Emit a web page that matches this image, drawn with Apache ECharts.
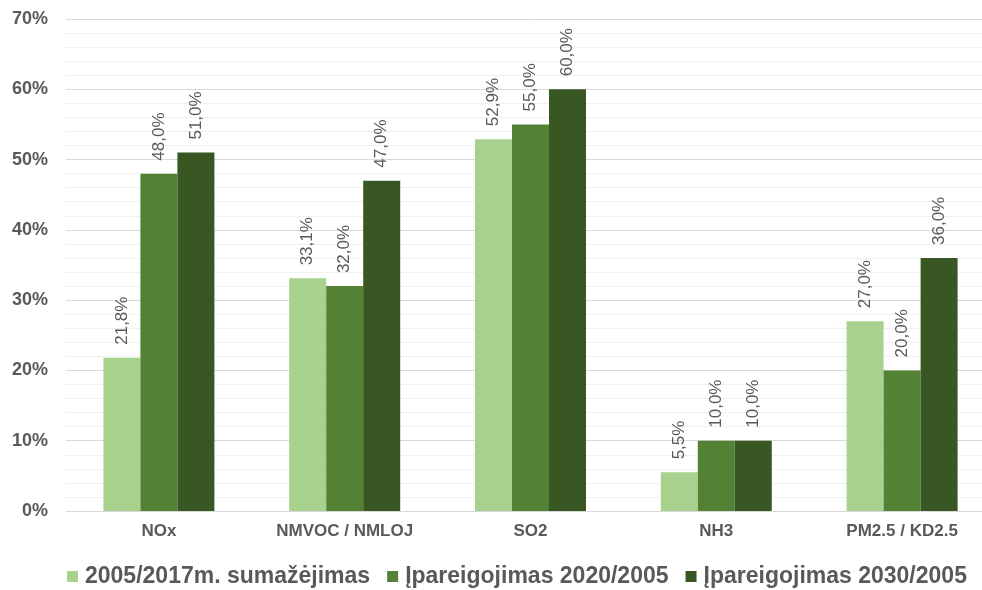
<!DOCTYPE html>
<html>
<head>
<meta charset="utf-8">
<script src="https://cdn.jsdelivr.net/npm/echarts@6/dist/echarts.min.js"></script>
<style>
  html, body { margin: 0; padding: 0; background: #fff; overflow: hidden; }
  #chart { width: 1000px; height: 590px; }
</style>
</head>
<body>
<div id="chart"></div>
<script>
// Pollutant categories
const categories = ['NOx', 'NMVOC / NMLOJ', 'SO2', 'NH3', 'PM2.5 / KD2.5'];
// Series names
const seriesNames = ['2005/2017m. sumažėjimas', 'Įpareigojimas 2020/2005', 'Įpareigojimas 2030/2005'];
// Values in percent
const reduction2017 = [21.8, 33.1, 52.9, 5.5, 27.0];
const target2020 = [48.0, 32.0, 55.0, 10.0, 20.0];
const target2030 = [51.0, 47.0, 60.0, 10.0, 36.0];
// Y axis ticks
const yTicks = [0, 10, 20, 30, 40, 50, 60, 70];

const colors = ['#a9d18e', '#548235', '#385723'];
const font = "'Liberation Sans', Arial, sans-serif";

function fmt(v) {
  return v.toFixed(1).replace('.', ',') + '%';
}

const seriesData = [reduction2017, target2020, target2030];

const chart = echarts.init(document.getElementById('chart'), null, { renderer: 'canvas' });
chart.setOption({
  animation: false,
  color: colors,
  grid: { left: 66, top: 19, width: 929, bottom: 79 },
  legend: {
    top: 560,
    left: 62,
    itemWidth: 11,
    itemHeight: 11,
    itemGap: 17,
    icon: 'rect',
    textStyle: { color: '#595959', fontSize: 23, fontWeight: 'bold', fontFamily: font, padding: [0, 0, 0, 2] },
    data: seriesNames
  },
  xAxis: {
    type: 'category',
    data: categories,
    axisLine: { lineStyle: { color: '#d9d9d9', width: 1 } },
    axisTick: { show: false },
    axisLabel: {
      interval: 0, hideOverlap: false,
      color: '#595959', fontSize: 17, fontWeight: 'bold', fontFamily: font, margin: 12
    }
  },
  yAxis: {
    type: 'value',
    min: yTicks[0],
    max: yTicks[yTicks.length - 1],
    interval: 10,
    axisLine: { show: false },
    axisTick: { show: false },
    axisLabel: {
      color: '#595959', fontSize: 18, fontWeight: 'bold', fontFamily: font, margin: 18,
      formatter: v => v + '%'
    },
    splitLine: { lineStyle: { color: '#d9d9d9', width: 1 } },
    minorTick: { show: false, splitNumber: 5 },
    minorSplitLine: { show: true, lineStyle: { color: '#f0f0f0', width: 1 } }
  },
  series: seriesData.map((d, i) => ({
    name: seriesNames[i],
    type: 'bar',
    data: d,
    barWidth: 37,
    barGap: '0%',
    label: {
      show: true,
      position: 'top',
      rotate: 90,
      align: 'left',
      verticalAlign: 'middle',
      distance: 13,
      color: '#595959',
      fontSize: 17,
      fontFamily: font,
      formatter: p => fmt(p.value)
    }
  }))
});
</script>
</body>
</html>
